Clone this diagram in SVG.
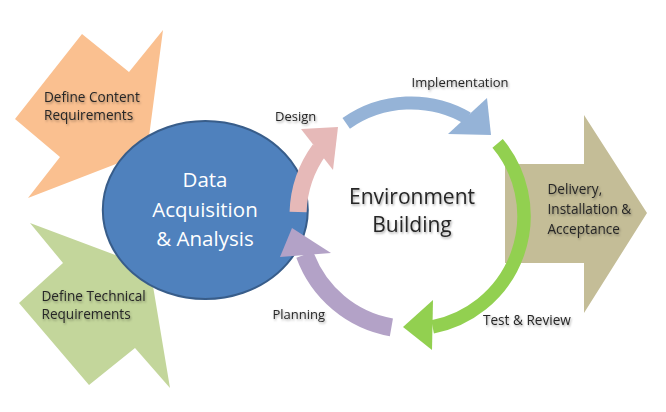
<svg xmlns="http://www.w3.org/2000/svg" width="666" height="412" viewBox="0 0 666 412">
  <defs>
    <filter id="sh" x="-10%" y="-30%" width="130%" height="180%">
      <feDropShadow dx="1" dy="1.5" stdDeviation="1" flood-color="#000" flood-opacity="0.35"/>
    </filter>
    <style>
      .lbl { font-family: "Open Sans", "Liberation Sans", sans-serif; font-size: 13px; fill: #262626; filter: url(#sh); }
      .lg { font-size: 13.6px; }
      .big { font-family: "Open Sans", "Liberation Sans", sans-serif; font-size: 21px; fill: #262626; text-anchor: middle; filter: url(#sh); }
      .wht { font-family: "Open Sans", "Liberation Sans", sans-serif; font-size: 20.5px; fill: #ffffff; text-anchor: middle; }
      .arc { fill: none; stroke-linecap: butt; }
    </style>
  </defs>
  <rect width="666" height="412" fill="#ffffff"/>

  <g id="define-content">
    <polygon points="163,30 129,72 82,34 15,119 60,157 28,198 147,152" fill="#fac090"/>
  </g>
  <g id="define-technical">
    <polygon points="30,223 150,268 170,388 135,348 89,385 19,303 63,263" fill="#c3d69b"/>
  </g>
  <g id="delivery">
    <polygon points="505,164 584,164 584,115 647,213 584,313 584,263 505,263" fill="#c4bd97"/>
  </g>
  <g id="data-acquisition">
    <ellipse cx="205.3" cy="210" rx="102.5" ry="89" fill="#4f81bd" stroke="#385d8a" stroke-width="2"/>
  </g>

  <g id="connectors">
    <g id="design-arrow" fill="#e6b9b8">
      <path class="arc" d="M298.07,212.06 A113,113 0 0 1 319.58,149.58" stroke="#e6b9b8" stroke-width="17"/>
      <polygon points="301,129 338,127 333,170"/>
    </g>
    <g id="implementation-arrow" fill="#95b3d7">
      <path class="arc" d="M346.2,123.4 A113,113 0 0 1 467.5,118.1" stroke="#95b3d7" stroke-width="13"/>
      <polygon points="487,98 491,135 448,134"/>
    </g>
    <g id="test-arrow" fill="#92d050">
      <path class="arc" d="M497.6,143.4 A113,113 0 0 1 432.6,326.9" stroke="#92d050" stroke-width="13.5"/>
      <polygon points="433,300 403,327 432,350"/>
    </g>
    <g id="planning-arrow" fill="#b3a2c7">
      <path class="arc" d="M391.4,327.3 A113,113 0 0 1 304.8,254.6" stroke="#b3a2c7" stroke-width="18"/>
      <polygon points="280,257 292,228 331,253"/>
    </g>
  </g>

  <g id="labels">
    <text class="lbl lg" x="44" y="101.5">Define Content</text>
    <text class="lbl lg" x="44" y="119.5">Requirements</text>
    <text class="lbl lg" x="41.5" y="300.5">Define Technical</text>
    <text class="lbl lg" x="41.5" y="319">Requirements</text>
    <text class="lbl" x="275" y="120.5">Design</text>
    <text class="lbl" x="411.5" y="86.5">Implementation</text>
    <text class="lbl" x="272.5" y="319">Planning</text>
    <text class="lbl lg" x="483" y="325">Test &amp; Review</text>
    <text class="lbl lg" x="547.5" y="194">Delivery,</text>
    <text class="lbl lg" x="547.5" y="214">Installation &amp;</text>
    <text class="lbl lg" x="547.5" y="233.5">Acceptance</text>
    <text class="big" x="412" y="203.5">Environment</text>
    <text class="big" x="412" y="231.5">Building</text>
    <text class="wht" x="205" y="187">Data</text>
    <text class="wht" x="205" y="216.5">Acquisition</text>
    <text class="wht" x="205" y="245.5">&amp; Analysis</text>
  </g>
</svg>
